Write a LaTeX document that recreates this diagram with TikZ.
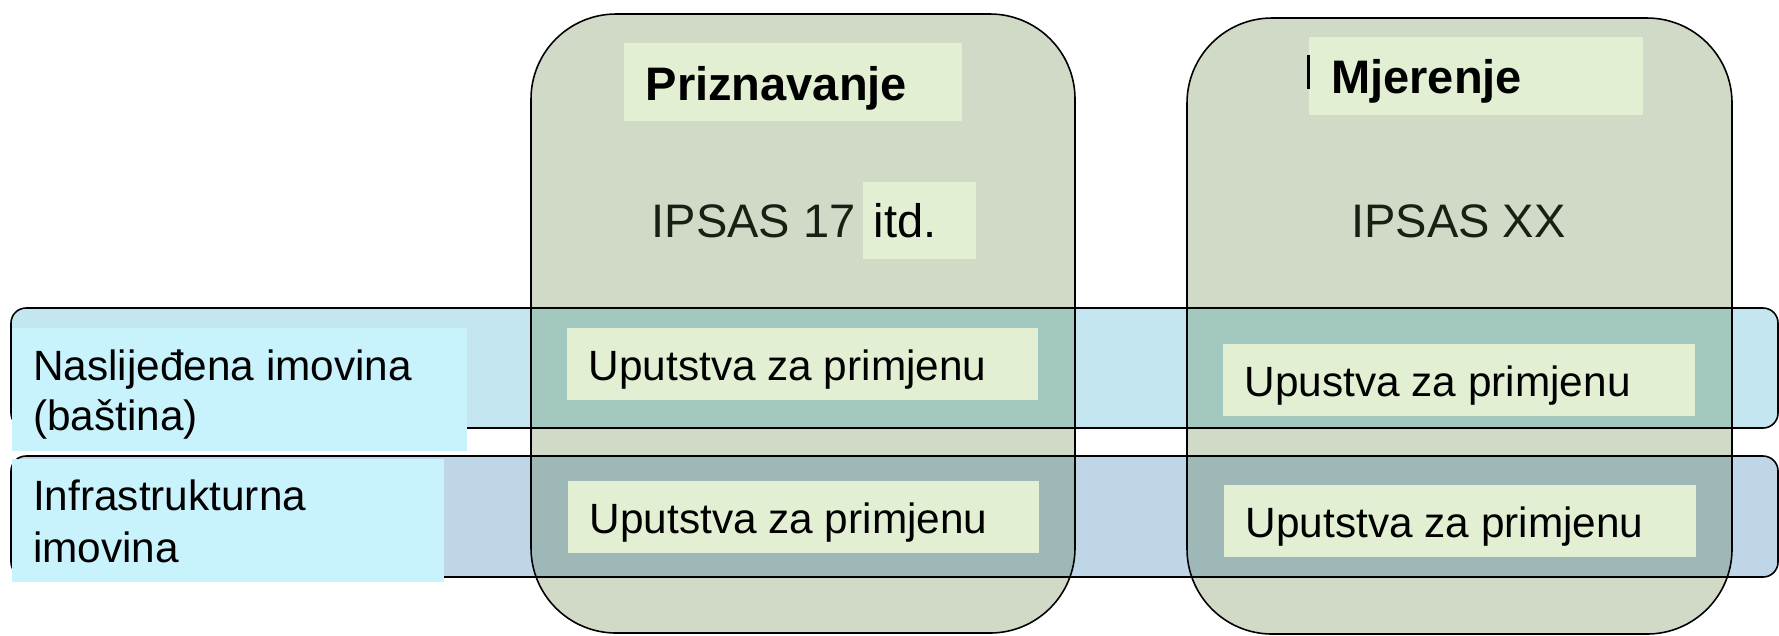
\documentclass[tikz,border=0pt]{standalone}
\usepackage{fontspec}
\setmainfont{Liberation Sans}
\definecolor{tallc}{RGB}{209,217,199}
\definecolor{bandA}{RGB}{195,230,241}
\definecolor{bandB}{RGB}{191,213,232}
\definecolor{ovA}{RGB}{163,200,192}
\definecolor{ovB}{RGB}{158,184,184}
\definecolor{lblc}{RGB}{200,242,252}
\definecolor{uboxc}{RGB}{227,239,211}
\definecolor{ipsasc}{RGB}{26,31,20}
\begin{document}
\begin{tikzpicture}[x=0.01cm,y=-0.01cm,
  lbl/.style={anchor=base west, inner sep=0pt, font=\fontsize{12.04}{14}\selectfont},
  ttl/.style={anchor=base west, inner sep=0pt, font=\fontsize{13.37}{16}\selectfont},
  ttlb/.style={anchor=base west, inner sep=0pt, font=\fontsize{13.37}{16}\selectfont\bfseries},
  bandshape/.style={rounded corners=0.15cm},
  tallshape/.style={rounded corners=0.85cm},
  edge/.style={draw=black, line width=0.45pt},
]
\useasboundingbox (0,0) rectangle (1779,635);
% bands
\fill[bandA, bandshape] (11,308) rectangle (1778,428);
\fill[bandB, bandshape] (11,456) rectangle (1778,577);
% tall boxes
\fill[tallc, tallshape] (531,14) rectangle (1075,633);
\fill[tallc, tallshape] (1187,18) rectangle (1732,634);
% overlaps
\begin{scope}
  \clip[tallshape] (531,14) rectangle (1075,633);
  \fill[ovA, bandshape] (11,308) rectangle (1778,428);
  \fill[ovB, bandshape] (11,456) rectangle (1778,577);
\end{scope}
\begin{scope}
  \clip[tallshape] (1187,18) rectangle (1732,634);
  \fill[ovA, bandshape] (11,308) rectangle (1778,428);
  \fill[ovB, bandshape] (11,456) rectangle (1778,577);
\end{scope}
% borders
\draw[edge, bandshape] (11,308) rectangle (1778,428);
\draw[edge, bandshape] (11,456) rectangle (1778,577);
\draw[edge, tallshape] (531,14) rectangle (1075,633);
\draw[edge, tallshape] (1187,18) rectangle (1732,634);
% label boxes
\fill[lblc] (11.5,328) rectangle (467,451);
\fill[lblc] (11.5,459) rectangle (444,582);
% title boxes
\fill[uboxc] (624,43) rectangle (962,121);
\fill[uboxc] (1309,37) rectangle (1643,115);
\fill[black] (1306.5,55) rectangle (1309.5,89);
\fill[uboxc] (863,182) rectangle (976,259);
% instruction boxes
\fill[uboxc] (567,328) rectangle (1038,400);
\fill[uboxc] (568,481) rectangle (1039,553);
\fill[uboxc] (1223,344) rectangle (1695,416);
\fill[uboxc] (1224,485) rectangle (1696,557);
% texts
\node[lbl] (nasl1) at (32.5,380) {Naslijeđena imovina};
\node[lbl] (nasl2) at (32.5,430) {(baština)};
\node[lbl] (infra1) at (32.5,510) {Infrastrukturna};
\node[lbl] (infra2) at (32.5,562) {imovina};
\node[ttlb] (prizn) at (645,100) {Priznavanje};
\node[ttlb] (mjer) at (1330.5,93) {Mjerenje};
\node[ttl, text=ipsasc] (ipsas17) at (651,237) {IPSAS 17};
\node[ttl] (itd) at (873,237) {itd.};
\node[ttl, text=ipsasc] (ipsasxx) at (1350.6,237) {IPSAS XX};
\node[lbl] (u11) at (588,380) {Uputstva za primjenu};
\node[lbl] (u21) at (589,533) {Uputstva za primjenu};
\node[lbl] (u12) at (1244,396) {Upustva za primjenu};
\node[lbl] (u22) at (1245,537) {Uputstva za primjenu};
\end{tikzpicture}
\end{document}
